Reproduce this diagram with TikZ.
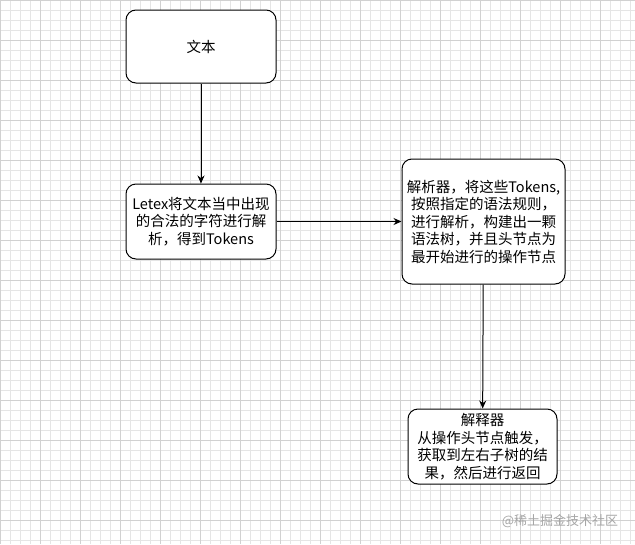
\documentclass[tikz,border=0pt]{standalone}
\usepackage{fontspec}
\setmainfont{Noto Sans CJK SC}
\usetikzlibrary{arrows.meta}
\begin{document}
\begin{tikzpicture}[x=1pt,y=-1pt,
  box/.style={draw=black,line width=1pt,rounded corners=10pt,fill=white,align=center,font=\fontsize{14.5}{17.5}\selectfont,inner sep=0pt},
  arr/.style={-{Stealth[length=8pt,width=7pt]},line width=1pt}]
\useasboundingbox (0,0) rectangle (635,544);
\fill[white] (0,0) rectangle (635,544);
\foreach \i in {0,10,...,630} \draw[black!10,line width=0.5pt] (\i,0) -- (\i,544);
\foreach \j in {0,10,...,540} \draw[black!10,line width=0.5pt] (0,\j) -- (635,\j);
\foreach \i in {0,40,...,630} \draw[black!18,line width=0.5pt] (\i,0) -- (\i,544);
\foreach \j in {0,40,...,540} \draw[black!18,line width=0.5pt] (0,\j) -- (635,\j);
\node[box,minimum width=150pt,minimum height=73pt] (a) at (201,46.5) {文本};
\node[box,minimum width=150pt,minimum height=75pt] (b) at (201,221.5) {Letex将文本当中出现\\的合法的字符进行解\\析，得到Tokens};
\node[box,minimum width=163pt,minimum height=125pt] (c) at (483.5,221.5) {解析器，将这些Tokens,\\按照指定的语法规则，\\进行解析，构建出一颗\\语法树，并且头节点为\\最开始进行的操作节点};
\node[box,minimum width=149pt,minimum height=75pt] (d) at (482.5,446.5) {解释器\\从操作头节点触发，\\获取到左右子树的结\\果，然后进行返回};
\draw[arr] (a) -- (b);
\draw[arr] (b) -- (c);
\draw[arr] (c) -- (d);
\node[text=black!35,font=\fontsize{13}{15}\selectfont] (w) at (560,521) {@稀土掘金技术社区};
\end{tikzpicture}
\end{document}
